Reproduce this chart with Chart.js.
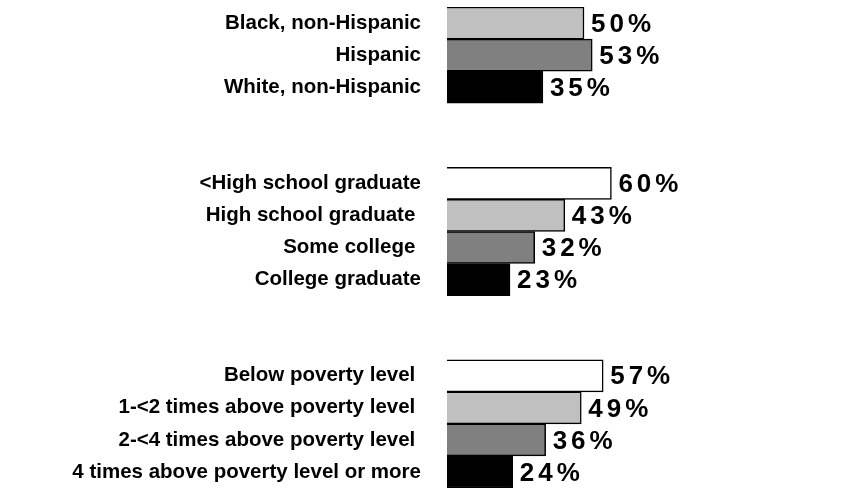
<!DOCTYPE html>
<html>
<head>
<meta charset="utf-8">
<script src="https://cdn.jsdelivr.net/npm/chart.js@4"></script>
<style>
  body { margin: 0; background: #fff; }
  #wrap { width: 841px; height: 492px; }
</style>
</head>
<body>
<div id="wrap"><canvas id="chart"></canvas></div>
<script>
// categories (empty strings are the gaps between groups)
const categories = [
  'Black, non-Hispanic', 'Hispanic', 'White, non-Hispanic',
  '', '',
  '<High school graduate', 'High school graduate ', 'Some college ', 'College graduate',
  '', '',
  'Below poverty level ', '1-<2 times above poverty level ', '2-<4 times above poverty level ', '4 times above poverty level or more'
];

// percent values
const values = [50, 53, 35, null, null, 60, 43, 32, 23, null, null, 57, 49, 36, 24];

// fill per bar
const barColors = [
  '#c0c0c0', '#808080', '#000000', null, null,
  '#ffffff', '#c0c0c0', '#808080', '#000000', null, null,
  '#ffffff', '#c0c0c0', '#808080', '#000000'
];

const FONT = '"Liberation Sans", Arial, sans-serif';

// draws the "50%" style labels at the end of each bar
const valueLabels = {
  id: 'valueLabels',
  afterDatasetsDraw(chart) {
    const ctx = chart.ctx;
    const meta = chart.getDatasetMeta(0);
    ctx.save();
    ctx.font = 'bold 26px ' + FONT;
    ctx.letterSpacing = '4px';
    ctx.fillStyle = '#000';
    ctx.textAlign = 'left';
    ctx.textBaseline = 'middle';
    meta.data.forEach((bar, i) => {
      if (values[i] == null) return;
      ctx.fillText(values[i] + '%', bar.x + 7, bar.y + 1.5);
    });
    ctx.restore();
  }
};

new Chart(document.getElementById('chart'), {
  type: 'bar',
  data: {
    labels: categories,
    datasets: [{
      data: values,
      backgroundColor: barColors,
      borderColor: '#000',
      borderWidth: 1.5,
      barPercentage: 1,
      categoryPercentage: 1
    }]
  },
  options: {
    indexAxis: 'y',
    responsive: true,
    maintainAspectRatio: false,
    animation: false,
    layout: { padding: { left: 0, right: 120, top: 7, bottom: 4 } },
    plugins: {
      legend: { display: false },
      tooltip: { enabled: false }
    },
    scales: {
      x: { display: false, min: 0, max: 100 },
      y: {
        grid: { display: false },
        border: { display: false },
        ticks: {
          color: '#000',
          padding: 18,
          labelOffset: 0,
          autoSkip: false,
          font: { family: FONT, size: 20.5, weight: 'bold' }
        },
        afterFit(scale) {
          // fixed axis width so bars start at x=447, and no extra top/bottom room
          scale.width = 447;
          scale.paddingTop = 0;
          scale.paddingBottom = 0;
        }
      }
    }
  },
  plugins: [valueLabels]
});
</script>
</body>
</html>
